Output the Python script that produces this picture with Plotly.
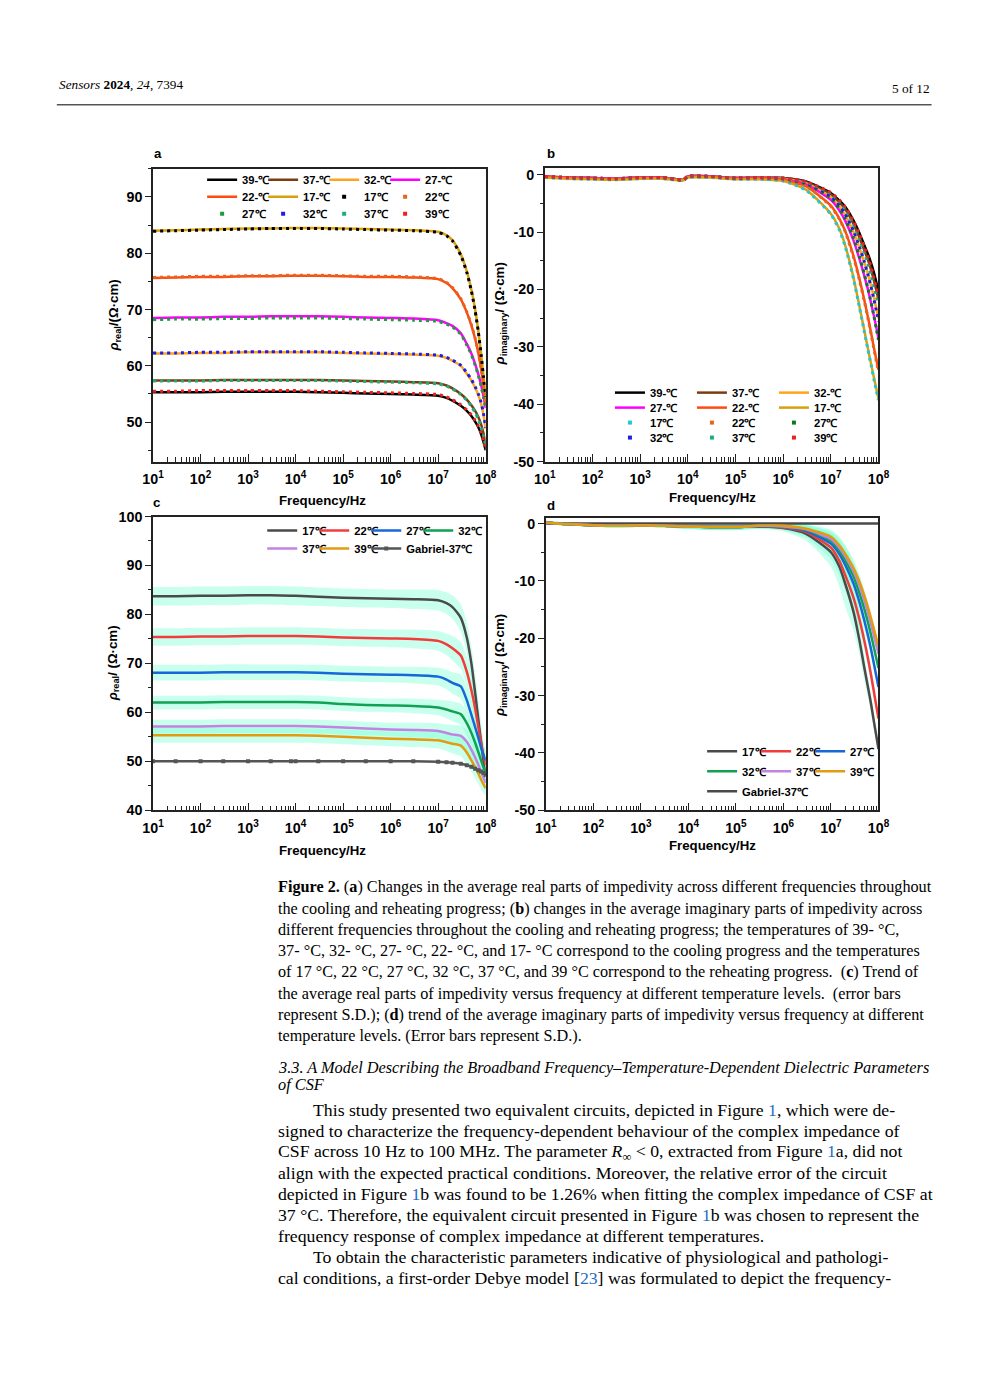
import plotly.graph_objects as go

# ---------------- data ----------------
FREQ = [10, 30, 100, 300, 1e3, 3e3, 8e3, 1e4, 3e4, 1e5, 3e5, 1e6, 3e6,
        1e7, 1.5e7, 2e7, 3e7, 4e7, 5e7, 6e7, 7e7, 8e7, 9e7, 1e8]

X_TICKS = [1e1, 1e2, 1e3, 1e4, 1e5, 1e6, 1e7, 1e8]
X_TICKTEXT = ['10<sup>1</sup>', '10<sup>2</sup>', '10<sup>3</sup>', '10<sup>4</sup>',
              '10<sup>5</sup>', '10<sup>6</sup>', '10<sup>7</sup>', '10<sup>8</sup>']
Y_TICKS_REAL_A = [50, 60, 70, 80, 90]
Y_TICKS_REAL_C = [40, 50, 60, 70, 80, 90, 100]
Y_TICKS_IMAG = [-50, -40, -30, -20, -10, 0]

TEMPS = ['39', '37', '32', '27', '22', '17']

# panel a: real part, cooling (lines) and reheating (dots)
A_COOL_39 = [55.3, 55.3, 55.3, 55.4, 55.4, 55.4, 55.4, 55.4, 55.3, 55.2, 55.1, 55.0, 54.9,
             54.7, 54.3, 53.8, 52.9, 52.0, 51.1, 50.1, 49.1, 47.9, 46.5, 45.0]
A_COOL_37 = [57.4, 57.4, 57.4, 57.5, 57.5, 57.5, 57.5, 57.5, 57.5, 57.4, 57.3, 57.2, 57.1,
             56.9, 56.5, 56.0, 55.0, 54.0, 53.0, 52.0, 50.9, 49.6, 48.0, 46.0]
A_COOL_32 = [62.2, 62.2, 62.3, 62.3, 62.4, 62.4, 62.4, 62.4, 62.4, 62.3, 62.2, 62.1, 62.0,
             61.8, 61.4, 60.9, 60.0, 58.6, 57.4, 56.1, 54.8, 53.3, 51.3, 48.8]
A_COOL_27 = [68.5, 68.6, 68.6, 68.7, 68.7, 68.8, 68.8, 68.8, 68.8, 68.7, 68.6, 68.5, 68.4,
             68.1, 67.6, 67.1, 65.8, 63.9, 62.2, 60.3, 58.5, 56.6, 54.6, 52.5]
A_COOL_22 = [75.6, 75.7, 75.8, 75.8, 75.9, 75.9, 76.0, 76.0, 76.0, 75.9, 75.8, 75.8, 75.7,
             75.4, 74.7, 73.8, 71.8, 69.5, 67.2, 64.8, 62.3, 59.5, 56.5, 53.0]
A_COOL_17 = [84.0, 84.1, 84.2, 84.3, 84.4, 84.4, 84.5, 84.5, 84.5, 84.4, 84.3, 84.2, 84.1,
             83.8, 83.2, 82.3, 79.8, 76.8, 73.5, 70.0, 66.2, 62.2, 58.2, 54.5]

A_HEAT_17 = [83.9, 84.0, 84.1, 84.2, 84.3, 84.4, 84.4, 84.4, 84.4, 84.3, 84.2, 84.1, 84.0,
             83.7, 83.1, 82.2, 79.6, 76.6, 73.3, 69.8, 66.0, 62.0, 58.0, 54.5]
A_HEAT_22 = [75.7, 75.8, 75.9, 75.9, 76.0, 76.0, 76.1, 76.1, 76.1, 76.0, 75.9, 75.9, 75.8,
             75.5, 74.8, 73.9, 71.9, 69.6, 67.3, 64.9, 62.4, 59.6, 56.6, 53.1]
A_HEAT_27 = [68.2, 68.3, 68.3, 68.4, 68.4, 68.5, 68.5, 68.5, 68.5, 68.4, 68.3, 68.2, 68.1,
             67.9, 67.4, 66.9, 65.6, 63.7, 62.0, 60.1, 58.3, 56.4, 54.4, 52.3]
A_HEAT_32 = [62.3, 62.3, 62.4, 62.4, 62.5, 62.5, 62.5, 62.5, 62.5, 62.4, 62.3, 62.2, 62.1,
             61.9, 61.5, 61.0, 60.1, 58.8, 57.6, 56.3, 55.0, 53.5, 51.5, 49.0]
A_HEAT_37 = [57.3, 57.3, 57.3, 57.4, 57.4, 57.4, 57.4, 57.4, 57.4, 57.3, 57.2, 57.1, 57.0,
             56.8, 56.4, 55.9, 54.9, 53.9, 52.8, 51.7, 50.5, 49.1, 47.5, 45.6]
A_HEAT_39 = [55.5, 55.5, 55.6, 55.6, 55.6, 55.6, 55.6, 55.6, 55.5, 55.4, 55.3, 55.2, 55.1,
             54.9, 54.5, 54.0, 53.1, 52.2, 51.3, 50.3, 49.3, 48.1, 46.7, 45.2]

# panel b: imaginary part, cooling (lines) and reheating (dots)
B_COOL_39 = [-0.3, -0.5, -0.6, -0.7, -0.5, -0.5, -0.9, -0.3, -0.3, -0.6, -0.5, -0.6, -1.2,
             -3.2, -4.5, -5.6, -8.0, -10.2, -12.2, -13.8, -15.4, -17.0, -18.7, -20.5]
B_COOL_37 = [-0.3, -0.5, -0.6, -0.7, -0.5, -0.5, -0.9, -0.3, -0.3, -0.6, -0.5, -0.6, -1.3,
             -3.4, -4.8, -6.0, -8.6, -11.0, -13.1, -14.8, -16.6, -18.4, -20.1, -21.8]
B_COOL_32 = [-0.3, -0.5, -0.6, -0.7, -0.5, -0.5, -0.9, -0.3, -0.3, -0.6, -0.5, -0.7, -1.5,
             -3.9, -5.5, -7.0, -10.0, -12.8, -15.2, -17.3, -19.4, -21.4, -23.3, -25.0]
B_COOL_27 = [-0.3, -0.5, -0.6, -0.7, -0.5, -0.5, -0.9, -0.3, -0.3, -0.6, -0.5, -0.8, -1.7,
             -4.4, -6.2, -8.0, -11.5, -14.7, -17.5, -20.0, -22.4, -24.6, -26.6, -28.5]
B_COOL_22 = [-0.4, -0.6, -0.7, -0.8, -0.6, -0.6, -0.9, -0.4, -0.4, -0.7, -0.6, -0.9, -2.0,
             -5.4, -7.6, -9.8, -14.2, -18.2, -21.7, -24.8, -27.6, -30.1, -32.2, -34.0]
B_COOL_17 = [-0.5, -0.7, -0.8, -0.9, -0.7, -0.7, -1.0, -0.5, -0.5, -0.8, -0.8, -1.1, -2.6,
             -6.8, -9.4, -12.3, -18.0, -23.0, -27.0, -30.3, -33.0, -35.3, -37.3, -39.0]

B_HEAT_17 = [-0.5, -0.7, -0.8, -0.9, -0.7, -0.7, -1.0, -0.5, -0.5, -0.8, -0.8, -1.1, -2.7,
             -6.9, -9.6, -12.5, -18.2, -23.2, -27.2, -30.5, -33.2, -35.6, -37.6, -39.3]
B_HEAT_22 = [-0.4, -0.6, -0.7, -0.8, -0.6, -0.6, -0.9, -0.4, -0.4, -0.7, -0.6, -0.9, -2.0,
             -5.5, -7.7, -9.9, -14.4, -18.4, -21.9, -25.0, -27.8, -30.3, -32.5, -34.3]
B_HEAT_27 = [-0.3, -0.5, -0.6, -0.7, -0.5, -0.5, -0.9, -0.3, -0.3, -0.6, -0.5, -0.7, -1.6,
             -4.1, -5.9, -7.7, -11.1, -14.3, -17.2, -19.8, -22.3, -24.6, -26.8, -28.8]
B_HEAT_32 = [-0.3, -0.5, -0.6, -0.7, -0.5, -0.5, -0.9, -0.3, -0.3, -0.6, -0.5, -0.7, -1.4,
             -3.7, -5.3, -6.8, -9.8, -12.6, -15.1, -17.4, -19.6, -21.7, -23.7, -25.6]
B_HEAT_37 = [-0.3, -0.5, -0.6, -0.7, -0.5, -0.5, -0.9, -0.3, -0.3, -0.6, -0.5, -0.6, -1.3,
             -3.3, -4.7, -6.0, -8.7, -11.2, -13.5, -15.5, -17.5, -19.4, -21.1, -22.6]
B_HEAT_39 = [-0.3, -0.5, -0.6, -0.7, -0.5, -0.5, -0.9, -0.3, -0.3, -0.6, -0.5, -0.6, -1.2,
             -3.1, -4.4, -5.6, -8.1, -10.4, -12.5, -14.3, -16.1, -17.9, -19.7, -21.4]

# panel c: real part mean and S.D. per temperature
C_17 = [83.7, 83.7, 83.8, 83.8, 83.9, 83.9, 83.8, 83.8, 83.6, 83.4, 83.3, 83.2, 83.1,
        82.9, 82.3, 81.5, 79.3, 75.3, 70.0, 64.0, 58.5, 54.0, 50.0, 47.0]
C_22 = [75.4, 75.4, 75.5, 75.5, 75.6, 75.6, 75.6, 75.6, 75.5, 75.3, 75.2, 75.1, 75.0,
        74.6, 73.9, 73.1, 71.6, 68.3, 64.5, 60.8, 57.0, 53.8, 51.2, 49.3]
C_27 = [68.1, 68.1, 68.1, 68.2, 68.2, 68.2, 68.2, 68.2, 68.1, 67.9, 67.8, 67.7, 67.6,
        67.3, 66.7, 66.0, 65.3, 62.5, 59.5, 57.0, 54.8, 52.8, 51.3, 50.2]
C_32 = [62.0, 62.0, 62.0, 62.1, 62.1, 62.1, 62.1, 62.1, 62.0, 61.7, 61.5, 61.4, 61.3,
        61.0, 60.6, 60.2, 59.6, 57.8, 55.8, 53.8, 51.9, 50.2, 48.8, 47.8]
C_37 = [57.1, 57.1, 57.1, 57.2, 57.2, 57.2, 57.2, 57.2, 57.1, 56.9, 56.7, 56.5, 56.4,
        56.2, 55.8, 55.5, 55.2, 54.0, 52.4, 50.8, 49.3, 47.9, 46.7, 45.6]
C_39 = [55.3, 55.3, 55.3, 55.3, 55.3, 55.3, 55.3, 55.3, 55.2, 55.0, 54.8, 54.6, 54.5,
        54.3, 53.9, 53.6, 53.2, 51.8, 50.2, 48.8, 47.5, 46.3, 45.3, 44.5]
C_GABRIEL = [50.0, 50.0, 50.0, 50.0, 50.0, 50.0, 50.0, 50.0, 50.0, 50.0, 50.0, 50.0, 50.0,
             49.9, 49.8, 49.7, 49.5, 49.2, 48.9, 48.5, 48.2, 47.9, 47.6, 47.2]
SD_C_17 = [1.9, 1.9, 1.9, 1.9, 1.9, 1.9, 1.9, 1.9, 1.9, 1.9, 1.9, 1.9, 2.0,
           2.1, 2.2, 2.4, 2.8, 3.2, 3.5, 3.8, 4.0, 4.0, 3.8, 3.5]
SD_C_22 = [1.8, 1.8, 1.8, 1.8, 1.8, 1.8, 1.8, 1.8, 1.8, 1.8, 1.8, 1.8, 1.9,
           2.0, 2.2, 2.5, 2.8, 3.0, 3.2, 3.2, 3.0, 2.8, 2.6, 2.4]
SD_C_27 = [1.6, 1.6, 1.6, 1.6, 1.6, 1.6, 1.6, 1.6, 1.6, 1.6, 1.6, 1.6, 1.7,
           1.8, 2.0, 2.2, 2.5, 2.7, 2.8, 2.8, 2.6, 2.4, 2.2, 2.0]
SD_C_32 = [1.4, 1.4, 1.4, 1.4, 1.4, 1.4, 1.4, 1.4, 1.4, 1.4, 1.4, 1.4, 1.5,
           1.6, 1.8, 2.0, 2.2, 2.4, 2.5, 2.5, 2.4, 2.2, 2.0, 1.8]
SD_C_37 = [1.4, 1.4, 1.4, 1.4, 1.4, 1.4, 1.4, 1.4, 1.4, 1.4, 1.4, 1.4, 1.5,
           1.6, 1.7, 1.9, 2.1, 2.3, 2.3, 2.2, 2.1, 2.0, 1.8, 1.6]
SD_C_39 = [1.5, 1.5, 1.5, 1.5, 1.5, 1.5, 1.5, 1.5, 1.5, 1.5, 1.5, 1.5, 1.6,
           1.7, 1.8, 2.0, 2.2, 2.3, 2.3, 2.2, 2.1, 2.0, 1.8, 1.6]

# panel d: imaginary part mean and S.D. per temperature
D_17 = [0.2, -0.1, -0.3, -0.4, -0.3, -0.4, -0.5, -0.5, -0.6, -0.6, -0.5, -0.8, -1.8,
        -5.0, -7.5, -10.5, -15.5, -20.5, -25.0, -28.5, -31.5, -34.5, -37.0, -39.3]
D_22 = [0.2, -0.1, -0.3, -0.4, -0.3, -0.4, -0.5, -0.5, -0.6, -0.6, -0.5, -0.7, -1.5,
        -4.2, -6.5, -9.0, -13.0, -16.8, -20.3, -23.5, -26.5, -29.3, -31.8, -34.0]
D_27 = [0.2, -0.1, -0.3, -0.4, -0.3, -0.4, -0.5, -0.5, -0.6, -0.6, -0.5, -0.6, -1.3,
        -3.5, -5.3, -7.2, -10.5, -13.8, -16.8, -19.5, -22.0, -24.4, -26.6, -28.5]
D_32 = [0.2, -0.1, -0.3, -0.4, -0.3, -0.4, -0.5, -0.5, -0.6, -0.6, -0.4, -0.5, -1.1,
        -3.0, -4.7, -6.4, -9.3, -12.2, -14.8, -17.2, -19.5, -21.6, -23.5, -25.2]
D_37 = [0.2, -0.1, -0.3, -0.4, -0.3, -0.4, -0.5, -0.5, -0.6, -0.6, -0.4, -0.5, -1.0,
        -2.7, -4.2, -5.7, -8.3, -10.9, -13.3, -15.5, -17.6, -19.5, -21.2, -22.7]
D_39 = [0.2, -0.1, -0.3, -0.4, -0.3, -0.4, -0.5, -0.5, -0.6, -0.6, -0.4, -0.4, -0.9,
        -2.3, -3.8, -5.3, -7.8, -10.2, -12.5, -14.6, -16.6, -18.4, -20.0, -21.3]
D_GABRIEL = [0.0, 0.0, 0.0, 0.0, 0.0, 0.0, 0.0, 0.0, 0.0, 0.0, 0.0, 0.0, 0.0,
             0.0, 0.0, 0.0, 0.0, 0.0, 0.0, 0.0, 0.0, 0.0, 0.0, 0.0]
SD_D_17 = [0.3, 0.3, 0.3, 0.3, 0.3, 0.3, 0.4, 0.4, 0.6, 0.6, 0.4, 0.6, 1.2,
           2.5, 3.5, 4.0, 3.2, 2.6, 2.2, 1.8, 1.5, 1.3, 1.1, 1.0]
SD_D_22 = [0.3, 0.3, 0.3, 0.3, 0.3, 0.3, 0.4, 0.4, 0.5, 0.5, 0.4, 0.5, 1.0,
           2.0, 2.6, 2.8, 2.4, 2.0, 1.8, 1.5, 1.3, 1.1, 1.0, 0.9]
SD_D_27 = [0.3, 0.3, 0.3, 0.3, 0.3, 0.3, 0.4, 0.4, 0.5, 0.5, 0.4, 0.5, 0.9,
           1.6, 2.0, 2.2, 2.0, 1.7, 1.5, 1.3, 1.1, 1.0, 0.9, 0.8]
SD_D_32 = [0.3, 0.3, 0.3, 0.3, 0.3, 0.3, 0.4, 0.4, 0.5, 0.5, 0.4, 0.5, 0.8,
           1.4, 1.8, 2.0, 1.8, 1.5, 1.3, 1.1, 1.0, 0.9, 0.8, 0.7]
SD_D_37 = [0.3, 0.3, 0.3, 0.3, 0.3, 0.3, 0.4, 0.4, 0.5, 0.5, 0.4, 0.5, 0.8,
           1.3, 1.6, 1.8, 1.6, 1.4, 1.2, 1.0, 0.9, 0.8, 0.7, 0.7]
SD_D_39 = [0.3, 0.3, 0.3, 0.3, 0.3, 0.3, 0.4, 0.4, 0.5, 0.5, 0.4, 0.5, 0.8,
           1.2, 1.5, 1.6, 1.5, 1.3, 1.1, 1.0, 0.9, 0.8, 0.7, 0.6]

# ---------------- page geometry ----------------
# the photographed page comes out slightly shrunk and offset, so target
# positions (in the photo) are mapped back to figure pixels
W, H = 955, 1360
SX, OX = 0.975, 20.25
SY, OY = 0.989, 15.1
FS = 1.02


def px(x):
    return ((x - OX) / SX) / W


def py(y):
    return 1 - ((y - OY) / SY) / H


BOXES = {'': (154, 486, 168, 461), '2': (545, 878, 167, 461),
         '3': (154, 486, 516, 810), '4': (546, 878, 517, 810)}

SANS = 'Liberation Sans'
SERIF = 'Liberation Serif'

COOL_COLORS = {'39': '#000000', '37': '#7a3c12', '32': '#ffa41c',
               '27': '#ff00ff', '22': '#ff4a10', '17': '#d9a00e'}
HEAT_COLORS_A = {'17': '#000000', '22': '#e2661e', '27': '#1e9b3c',
                 '32': '#1e1ee6', '37': '#1eac7a', '39': '#f01e1e'}
HEAT_COLORS_B = {'17': '#22c6d8', '22': '#e2661e', '27': '#0a7a1e',
                 '32': '#1e1ee6', '37': '#1eac7a', '39': '#f01e1e'}
TREND_COLORS = {'17': '#4a4a4a', '22': '#f23c3c', '27': '#1767d9',
                '32': '#12a052', '37': '#c283e2', '39': '#e39b10'}
BAND = 'rgba(127,255,212,0.42)'

# last entry of every legend row gets room so its text is not clipped
ROW_ENDS = {('legend', '27-℃'), ('legend2', '22℃'), ('legend3', '39℃'),
            ('legend4', '32-℃'), ('legend5', '17-℃'), ('legend6', '27℃'), ('legend7', '39℃'),
            ('legend8', '32℃'), ('legend9', 'Gabriel-37℃'),
            ('legend10', '27℃'), ('legend11', '39℃'), ('legend12', 'Gabriel-37℃')}

fig = go.Figure()


def lw(legend, name):
    return 80 if (legend, name) in ROW_ENDS else None


def add_line(ax, y, color, name, legend, width=2.5, dash=None, showlegend=True, mode='lines', marker=None):
    fig.add_trace(go.Scatter(
        x=FREQ, y=y, mode=mode, name=name, legend=legend,
        legendwidth=lw(legend, name) if showlegend else None,
        xaxis='x' + ax, yaxis='y' + ax,
        line=dict(color=color, width=width, dash=dash, shape='spline', smoothing=0.6),
        marker=marker, showlegend=showlegend))


def add_dot_legend(ax, color, name, legend):
    fig.add_trace(go.Scatter(
        x=[None], y=[None], mode='markers', name=name, legend=legend,
        legendwidth=lw(legend, name),
        xaxis='x' + ax, yaxis='y' + ax,
        marker=dict(color=color, size=4, symbol='square')))


def add_band(ax, mean, sd):
    upper = [m + s for m, s in zip(mean, sd)]
    lower = [m - s for m, s in zip(mean, sd)]
    fig.add_trace(go.Scatter(x=FREQ, y=upper, mode='lines', xaxis='x' + ax, yaxis='y' + ax,
                             line=dict(width=0, shape='spline', smoothing=0.6),
                             showlegend=False, hoverinfo='skip'))
    fig.add_trace(go.Scatter(x=FREQ, y=lower, mode='lines', xaxis='x' + ax, yaxis='y' + ax,
                             line=dict(width=0, shape='spline', smoothing=0.6),
                             fill='tonexty', fillcolor=BAND,
                             showlegend=False, hoverinfo='skip'))


# ---- panel a ----
a_cool = dict(zip(TEMPS, [A_COOL_39, A_COOL_37, A_COOL_32, A_COOL_27, A_COOL_22, A_COOL_17]))
a_heat = {'17': A_HEAT_17, '22': A_HEAT_22, '27': A_HEAT_27,
          '32': A_HEAT_32, '37': A_HEAT_37, '39': A_HEAT_39}
a_rows = {'39': 'legend', '37': 'legend', '32': 'legend', '27': 'legend',
          '22': 'legend2', '17': 'legend2'}
for t in TEMPS:
    add_line('', a_cool[t], COOL_COLORS[t], t + '-℃', a_rows[t])
for t in ['17', '22', '27', '32', '37', '39']:
    add_line('', a_heat[t], HEAT_COLORS_A[t], t + '℃', 'legend', width=3,
             dash='3px,4px', showlegend=False)
for t in ['17', '22', '27', '32', '37', '39']:
    add_dot_legend('', HEAT_COLORS_A[t], t + '℃', 'legend2' if t in ('17', '22') else 'legend3')

# ---- panel b ----
b_cool = dict(zip(TEMPS, [B_COOL_39, B_COOL_37, B_COOL_32, B_COOL_27, B_COOL_22, B_COOL_17]))
b_heat = {'17': B_HEAT_17, '22': B_HEAT_22, '27': B_HEAT_27,
          '32': B_HEAT_32, '37': B_HEAT_37, '39': B_HEAT_39}
for t in TEMPS:
    add_line('2', b_cool[t], COOL_COLORS[t], t + '-℃',
             'legend4' if t in ('39', '37', '32') else 'legend5')
for t in ['17', '22', '27', '32', '37', '39']:
    add_line('2', b_heat[t], HEAT_COLORS_B[t], t + '℃', 'legend6', width=3,
             dash='3px,4px', showlegend=False)
for t in ['17', '22', '27', '32', '37', '39']:
    add_dot_legend('2', HEAT_COLORS_B[t], t + '℃', 'legend6' if t in ('17', '22', '27') else 'legend7')

# ---- panel c ----
TREND_TEMPS = ['17', '22', '27', '32', '37', '39']
c_mean = dict(zip(TREND_TEMPS, [C_17, C_22, C_27, C_32, C_37, C_39]))
c_sd = dict(zip(TREND_TEMPS, [SD_C_17, SD_C_22, SD_C_27, SD_C_32, SD_C_37, SD_C_39]))
for t in TREND_TEMPS:
    add_band('3', c_mean[t], c_sd[t])
for t in TREND_TEMPS:
    add_line('3', c_mean[t], TREND_COLORS[t], t + '℃',
             'legend8' if t in ('17', '22', '27', '32') else 'legend9')
add_line('3', C_GABRIEL, '#555555', 'Gabriel-37℃', 'legend9', mode='lines+markers',
         marker=dict(symbol='square', size=4, color='#555555'))

# ---- panel d ----
d_mean = dict(zip(TREND_TEMPS, [D_17, D_22, D_27, D_32, D_37, D_39]))
d_sd = dict(zip(TREND_TEMPS, [SD_D_17, SD_D_22, SD_D_27, SD_D_32, SD_D_37, SD_D_39]))
for t in TREND_TEMPS:
    add_band('4', d_mean[t], d_sd[t])
add_line('4', D_GABRIEL, '#4a4a4a', 'Gabriel-37℃', 'legend12')
for t in TREND_TEMPS:
    add_line('4', d_mean[t], TREND_COLORS[t], t + '℃',
             'legend10' if t in ('17', '22', '27') else 'legend11')

# ---------------- axes ----------------
tick_font = dict(family=SANS, size=14 * FS, color='black', weight='bold')
layout = dict(width=W, height=H, margin=dict(l=0, r=0, t=0, b=0), autosize=False,
              paper_bgcolor='white', plot_bgcolor='white', showlegend=True)

Y_SETUP = {'': ([43, 95], Y_TICKS_REAL_A), '2': ([-50, 1.2], Y_TICKS_IMAG),
           '3': ([40, 100], Y_TICKS_REAL_C), '4': ([-50, 1.05], Y_TICKS_IMAG)}
for ax, (x0, x1, y0, y1) in BOXES.items():
    yr, yt = Y_SETUP[ax]
    layout['xaxis' + ax] = dict(
        domain=[px(x0), px(x1)], anchor='y' + ax, type='log', range=[1, 8],
        tickmode='array', tickvals=X_TICKS, ticktext=X_TICKTEXT,
        ticks='inside', ticklen=8, tickwidth=1.2, tickcolor='#222', ticklabelstandoff=4,
        minor=dict(ticks='inside', ticklen=5, tickwidth=1, tickcolor='#222', dtick='D1', showgrid=False),
        showline=True, linecolor='#222', linewidth=1.5, mirror=True,
        showgrid=False, zeroline=False, tickfont=tick_font)
    layout['yaxis' + ax] = dict(
        domain=[py(y1), py(y0)], anchor='x' + ax, range=yr,
        tickmode='array', tickvals=yt, ticktext=[str(v) for v in yt],
        ticks='outside', ticklen=6, tickwidth=1.2, tickcolor='#222',
        minor=dict(ticks='outside', ticklen=3, tickwidth=1, tickcolor='#222', dtick=5, showgrid=False),
        showline=True, linecolor='#222', linewidth=1.5, mirror=True,
        showgrid=False, zeroline=False, tickfont=tick_font)

# ---------------- legends (one per row) ----------------
LEGEND_ROWS = {
    'legend': (203, 179, 61), 'legend2': (203, 196, 61), 'legend3': (203, 213, 61),
    'legend4': (610, 392, 82), 'legend5': (610, 407, 82), 'legend6': (610, 422, 82), 'legend7': (610, 437, 82),
    'legend8': (263, 530, 52), 'legend9': (263, 548, 52),
    'legend10': (702, 751, 54), 'legend11': (702, 771, 54), 'legend12': (702, 791, 54),
}
for name, (lx, ly, pitch) in LEGEND_ROWS.items():
    layout[name] = dict(x=px(lx), y=py(ly - 14.5), xanchor='left', yanchor='top',
                        orientation='h', entrywidth=pitch - 45, itemwidth=30,
                        bgcolor='rgba(0,0,0,0)', borderwidth=0, traceorder='normal',
                        font=dict(family=SANS, size=11 * FS, color='black', weight='bold'))

fig.update_layout(**layout)

# ---------------- text ----------------
ann = []


def text(x, y, s, size, family=SANS, xanchor='left', angle=0, color='black'):
    ann.append(dict(x=px(x), y=py(y), xref='paper', yref='paper', text=s, showarrow=False,
                    xanchor=xanchor, yanchor='middle', textangle=angle,
                    font=dict(family=family, size=size * FS, color=color)))


for lab, (x, y) in {'a': (159, 153), 'b': (551, 153), 'c': (157, 502), 'd': (551, 505)}.items():
    text(x, y, '<b>' + lab + '</b>', 13, xanchor='center')
for x, y in [(323, 500), (712, 497), (323, 850), (712, 845)]:
    text(x, y, '<b>Frequency/Hz</b>', 13, xanchor='center')
text(116, 315, '<b><i>ρ</i><sub>real</sub>/(Ω·cm)</b>', 13, xanchor='center', angle=-90)
text(501, 313, '<b><i>ρ</i><sub>imaginary</sub>/ (Ω·cm)</b>', 13, xanchor='center', angle=-90)
text(114, 663, '<b><i>ρ</i><sub>real</sub>/ (Ω·cm)</b>', 13, xanchor='center', angle=-90)
text(501, 665, '<b><i>ρ</i><sub>imaginary</sub>/ (Ω·cm)</b>', 13, xanchor='center', angle=-90)

text(58, 84, '<i>Sensors</i> <b>2024</b>, <i>24</i>, 7394', 13, family=SERIF)
text(931, 88, '5 of 12', 13, family=SERIF, xanchor='right')

CAPTION = [
    '<b>Figure 2.</b> (<b>a</b>) Changes in the average real parts of impedivity across different frequencies throughout',
    'the cooling and reheating progress; (<b>b</b>) changes in the average imaginary parts of impedivity across',
    'different frequencies throughout the cooling and reheating progress; the temperatures of 39- °C,',
    '37- °C, 32- °C, 27- °C, 22- °C, and 17- °C correspond to the cooling progress and the temperatures',
    'of 17 °C, 22 °C, 27 °C, 32 °C, 37 °C, and 39 °C correspond to the reheating progress.  (<b>c</b>) Trend of',
    'the average real parts of impedivity versus frequency at different temperature levels.  (error bars',
    'represent S.D.); (<b>d</b>) trend of the average imaginary parts of impedivity versus frequency at different',
    'temperature levels. (Error bars represent S.D.).',
]
for i, line in enumerate(CAPTION):
    text(277, 887 + i * 21.3, line, 15.9, family=SERIF)

text(277, 1067, '<i>3.3. A Model Describing the Broadband Frequency–Temperature-Dependent Dielectric Parameters</i>',
     16.0, family=SERIF)
text(277, 1084, '<i>of CSF</i>', 16.0, family=SERIF)

REF = '<span style="color:#1f6fc5">%s</span>'
BODY = [
    (312, 'This study presented two equivalent circuits, depicted in Figure ' + REF % '1' + ', which were de-'),
    (277, 'signed to characterize the frequency-dependent behaviour of the complex impedance of'),
    (277, 'CSF across 10 Hz to 100 MHz. The parameter <i>R</i><sub>∞</sub> &lt; 0, extracted from Figure '
          + REF % '1' + 'a, did not'),
    (277, 'align with the expected practical conditions. Moreover, the relative error of the circuit'),
    (277, 'depicted in Figure ' + REF % '1' + 'b was found to be 1.26% when fitting the complex impedance of CSF at'),
    (277, '37 °C. Therefore, the equivalent circuit presented in Figure ' + REF % '1' + 'b was chosen to represent the'),
    (277, 'frequency response of complex impedance at different temperatures.'),
    (312, 'To obtain the characteristic parameters indicative of physiological and pathologi-'),
    (277, 'cal conditions, a first-order Debye model [' + REF % '23' + '] was formulated to depict the frequency-'),
]
for i, (x, line) in enumerate(BODY):
    text(x, 1110 + i * 21, line, 17.4, family=SERIF)

fig.update_layout(annotations=ann,
                  shapes=[dict(type='line', xref='paper', yref='paper', x0=px(58), x1=px(931),
                               y0=py(104), y1=py(104), line=dict(color='black', width=1))])

fig.write_html("out.html")
